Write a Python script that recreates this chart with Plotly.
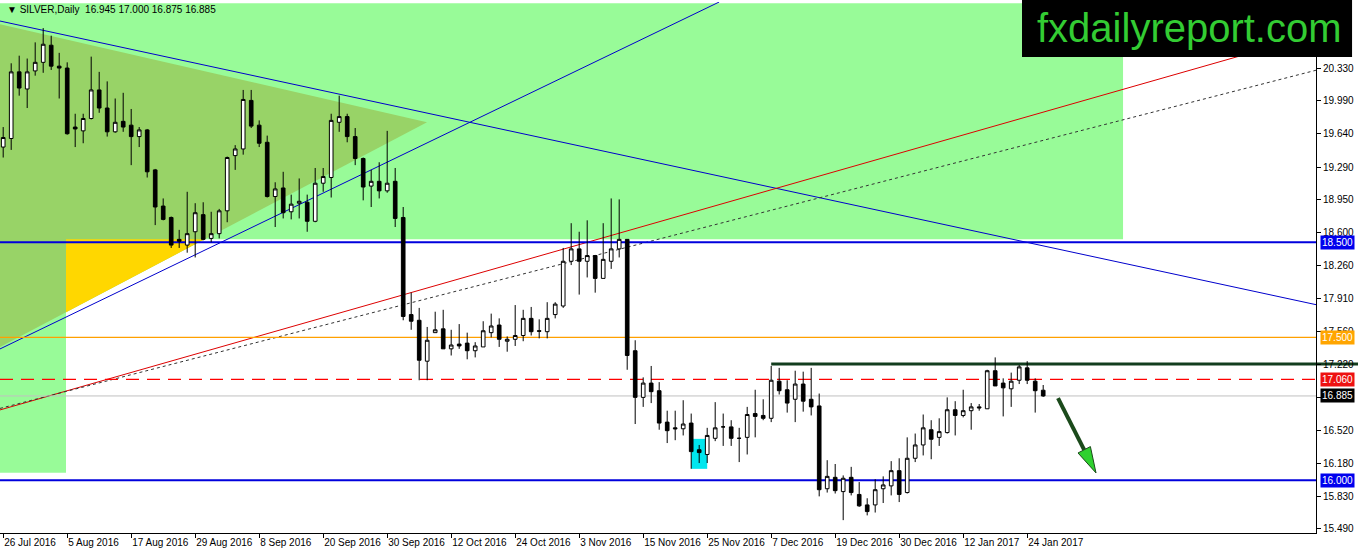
"""
SILVER daily chart with drawn trend lines and levels (MT4 style).
Writes out.html.
"""

import pandas as pd
import plotly.graph_objects as go

# ------------------------------------------------------------
# Data: SILVER, Daily
# ------------------------------------------------------------
HOLIDAYS = ["2016-12-26", "2017-01-02"]
DATES = [
    d.strftime("%Y-%m-%d")
    for d in pd.bdate_range("2016-07-26", "2017-01-26")
    if d.strftime("%Y-%m-%d") not in HOLIDAYS
]

OPEN = [
    19.50, 19.59, 20.29, 20.11, 20.30, 20.39, 20.57, 20.35, 20.33, 19.71,
    19.67, 19.80, 20.10, 19.91, 19.66, 19.77, 19.73, 19.61, 19.68, 19.26,
    18.88, 18.76, 18.53, 18.47, 18.61, 18.79, 18.54, 18.59, 18.83, 19.41,
    19.48, 19.99, 19.73, 19.55, 18.98, 19.07, 18.82, 18.91, 18.92, 18.72,
    19.12, 19.18, 19.76, 19.82, 19.61, 19.38, 19.09, 19.14, 19.04, 19.14,
    18.76, 17.74, 17.68, 17.25, 17.55, 17.59, 17.38, 17.43, 17.44, 17.36,
    17.40, 17.55, 17.63, 17.46, 17.48, 17.52, 17.70, 17.57, 17.56, 17.74,
    17.83, 18.30, 18.43, 18.30, 18.36, 18.12, 18.30, 18.43, 18.53, 17.36,
    16.87, 17.02, 16.94, 16.61, 16.55, 16.54, 16.60, 16.32, 16.27, 16.44,
    16.56, 16.56, 16.44, 16.45, 16.70, 16.68, 16.65, 17.04, 16.95, 16.85,
    17.01, 16.85, 16.78, 15.91, 16.03, 15.88, 16.03, 15.85, 15.74, 15.74,
    15.91, 15.94, 16.10, 15.87, 16.23, 16.37, 16.53, 16.45, 16.50, 16.74,
    16.68, 16.73, 16.77, 16.75, 17.15, 17.02, 16.96, 17.05, 17.18, 17.04,
    16.945,
]
HIGH = [
    19.71, 20.38, 20.46, 20.43, 20.60, 20.75, 20.67, 20.49, 20.39, 19.85,
    19.85, 20.45, 20.29, 20.19, 20.01, 20.07, 19.90, 19.71, 19.69, 19.27,
    18.96, 18.77, 18.63, 19.03, 18.91, 18.92, 18.82, 18.85, 19.40, 19.52,
    20.10, 20.10, 19.78, 19.62, 19.13, 19.24, 19.00, 19.17, 19.00, 19.28,
    19.28, 19.85, 20.04, 19.85, 19.70, 19.39, 19.26, 19.34, 19.67, 19.28,
    18.87, 17.97, 17.81, 17.61, 17.77, 17.79, 17.58, 17.64, 17.55, 17.45,
    17.67, 17.75, 17.70, 17.51, 17.84, 17.79, 17.82, 17.69, 17.87, 17.87,
    18.44, 18.70, 18.61, 18.73, 18.36, 18.70, 18.96, 18.95, 18.53, 17.47,
    17.08, 17.20, 17.03, 16.73, 16.73, 16.84, 16.70, 16.37, 16.55, 16.82,
    16.70, 16.63, 16.55, 16.77, 16.95, 16.85, 17.20, 17.18, 17.05, 17.15,
    17.14, 17.18, 16.91, 16.21, 16.17, 16.05, 16.14, 15.98, 15.81, 16.01,
    16.04, 16.20, 16.23, 16.45, 16.49, 16.69, 16.63, 16.65, 16.87, 16.83,
    16.95, 16.81, 16.80, 17.16, 17.29, 17.07, 17.13, 17.21, 17.25, 17.07,
    17.000,
]
LOW = [
    19.39, 19.47, 20.04, 19.91, 20.25, 20.28, 20.31, 20.01, 19.63, 19.50,
    19.54, 19.79, 19.86, 19.61, 19.65, 19.66, 19.31, 19.50, 19.18, 18.68,
    18.73, 18.44, 18.44, 18.39, 18.34, 18.52, 18.50, 18.54, 18.71, 19.26,
    19.42, 19.70, 19.50, 18.97, 18.66, 18.75, 18.74, 18.75, 18.61, 18.71,
    19.03, 18.97, 19.66, 19.55, 19.31, 18.94, 18.87, 18.96, 19.02, 18.66,
    17.68, 17.58, 17.05, 17.05, 17.55, 17.38, 17.31, 17.38, 17.27, 17.29,
    17.40, 17.50, 17.40, 17.35, 17.41, 17.46, 17.52, 17.49, 17.49, 17.70,
    17.81, 18.26, 17.95, 18.13, 17.97, 18.12, 18.22, 18.34, 17.16, 16.59,
    16.77, 16.81, 16.53, 16.39, 16.42, 16.47, 16.12, 16.18, 16.18, 16.41,
    16.36, 16.36, 16.19, 16.27, 16.45, 16.63, 16.61, 16.90, 16.71, 16.61,
    16.72, 16.68, 15.83, 15.87, 15.86, 15.58, 15.84, 15.72, 15.63, 15.66,
    15.76, 15.84, 15.77, 15.86, 16.19, 16.26, 16.22, 16.36, 16.49, 16.47,
    16.66, 16.53, 16.73, 16.75, 16.99, 16.67, 16.77, 17.01, 17.01, 16.71,
    16.875,
]
CLOSE = [
    19.60, 20.29, 20.12, 20.29, 20.39, 20.58, 20.35, 20.33, 19.64, 19.69,
    19.80, 20.10, 19.91, 19.66, 19.76, 19.71, 19.61, 19.68, 19.24, 18.87,
    18.74, 18.47, 18.51, 18.59, 18.81, 18.53, 18.59, 18.83, 19.39, 19.48,
    20.00, 19.72, 19.54, 18.98, 19.06, 18.81, 18.90, 18.93, 18.72, 19.12,
    19.19, 19.78, 19.82, 19.61, 19.38, 19.08, 19.14, 19.04, 19.12, 18.75,
    17.72, 17.67, 17.26, 17.47, 17.58, 17.38, 17.42, 17.41, 17.36, 17.41,
    17.57, 17.62, 17.48, 17.48, 17.52, 17.70, 17.56, 17.565, 17.70, 17.85,
    18.30, 18.43, 18.30, 18.36, 18.12, 18.32, 18.43, 18.53, 17.31, 16.87,
    17.02, 16.93, 16.60, 16.52, 16.54, 16.59, 16.30, 16.29, 16.47, 16.55,
    16.56, 16.44, 16.44, 16.69, 16.67, 16.65, 17.05, 16.94, 16.81, 17.01,
    16.83, 16.77, 15.90, 16.04, 15.89, 16.02, 15.87, 15.73, 15.67, 15.90,
    15.95, 16.10, 15.85, 16.23, 16.37, 16.55, 16.43, 16.51, 16.74, 16.68,
    16.73, 16.77, 16.76, 17.15, 16.99, 16.97, 17.04, 17.19, 17.05, 16.94,
    16.885,
]

TICK_DATES = [
    "2016-07-26", "2016-08-05", "2016-08-17", "2016-08-29", "2016-09-08",
    "2016-09-20", "2016-09-30", "2016-10-12", "2016-10-24", "2016-11-03",
    "2016-11-15", "2016-11-25", "2016-12-07", "2016-12-19", "2016-12-30",
    "2017-01-12", "2017-01-24",
]
TICK_LABELS = [
    "26 Jul 2016", "5 Aug 2016", "17 Aug 2016", "29 Aug 2016", "8 Sep 2016",
    "20 Sep 2016", "30 Sep 2016", "12 Oct 2016", "24 Oct 2016", "3 Nov 2016",
    "15 Nov 2016", "25 Nov 2016", "7 Dec 2016", "19 Dec 2016", "30 Dec 2016",
    "12 Jan 2017", "24 Jan 2017",
]
PRICE_TICKS = [20.33, 19.99, 19.64, 19.29, 18.95, 18.60, 18.26, 17.91,
               17.56, 17.22, 16.87, 16.52, 16.18, 15.83, 15.49]

# drawn levels
SUPPORT_HI = 18.500
SUPPORT_LO = 16.000
LEVEL_ORANGE = 17.500
LEVEL_RED = 17.060
LAST_PRICE = 16.885
RESIST_GREEN = 17.22

# drawn objects, anchors as (bar index, price)
DOWN_LINE = [(-0.4, 20.824), (164.1, 17.844)]
UP_LINE = [(-0.4, 17.379), (89.5, 21.024)]
RED_LINE = [(-0.4, 16.738), (164.1, 20.685)]
DOT_LINE = [(-0.4, 16.754), (164.1, 20.307)]
TRIANGLE = [(-0.4, 20.79), (52.975, 19.76), (-0.4, 17.40)]
ZONE_TOP = [(-0.4, 18.53), (139.98, 21.01)]
ZONE_LEFT = [(-0.4, 16.077), (7.85, 18.53)]
CYAN_BOX = [(86, 16.119), (88, 16.434)]
ARROW = [(131.85, 16.863), (136.6, 16.076)]

X_RANGE = [-0.4, 164.1]
Y_RANGE = [15.445, 21.024]

FONT = "Liberation Sans, Arial"

fig = go.Figure()

fig.add_trace(
    go.Candlestick(
        x=DATES,
        open=OPEN,
        high=HIGH,
        low=LOW,
        close=CLOSE,
        increasing=dict(line=dict(color="black", width=1), fillcolor="white"),
        decreasing=dict(line=dict(color="black", width=1), fillcolor="black"),
        whiskerwidth=0,
        hoverinfo="skip",
    )
)


# ------------------------------------------------------------
# Background objects (behind candles)
# ------------------------------------------------------------
def line(p0, p1, color, width=1, dash="solid"):
    fig.add_shape(
        type="line", layer="below",
        x0=p0[0], y0=p0[1], x1=p1[0], y1=p1[1],
        line=dict(color=color, width=width, dash=dash),
    )


def hline(price, color, width=1, dash="solid"):
    line((X_RANGE[0], price), (X_RANGE[1], price), color, width, dash)


PALE = "rgb(152,251,152)"
for a, b in (ZONE_TOP, ZONE_LEFT):
    fig.add_shape(type="rect", layer="below", x0=a[0], y0=a[1], x1=b[0], y1=b[1],
                  fillcolor=PALE, line=dict(width=0))

tri = "M {} {} L {} {} L {} {} Z".format(*[v for p in TRIANGLE for v in p])
fig.add_shape(type="path", layer="below", path=tri,
              fillcolor="rgb(152,211,103)", line=dict(width=0))

# yellow part: triangle below the zone, right of the left strip
(cx, cy), (bx, by) = TRIANGLE[2], TRIANGLE[1]
zb, xl = ZONE_TOP[0][1], ZONE_LEFT[1][0]
y_at_xl = cy + (xl - cx) / (bx - cx) * (by - cy)
x_at_zb = cx + (zb - cy) / (by - cy) * (bx - cx)
fig.add_shape(type="path", layer="below",
              path=f"M {xl} {zb} L {x_at_zb} {zb} L {xl} {y_at_xl} Z",
              fillcolor="rgb(255,215,0)", line=dict(width=0))

fig.add_shape(type="rect", layer="below",
              x0=CYAN_BOX[0][0], y0=CYAN_BOX[0][1], x1=CYAN_BOX[1][0], y1=CYAN_BOX[1][1],
              fillcolor="rgb(0,230,238)", line=dict(width=0))

line(*DOWN_LINE, color="#0000CC")
line(*UP_LINE, color="#0000CC")
line(*RED_LINE, color="#DD0000")
line(*DOT_LINE, color="#333333", dash="dot")

hline(SUPPORT_HI, "#0000DD", 2)
hline(SUPPORT_LO, "#0000DD", 2)
hline(LEVEL_ORANGE, "#FFA000", 1.2)
hline(LEVEL_RED, "#FF0000", 1.2, dash="13px,8px")
hline(LAST_PRICE, "#C0C0C0", 1)

# resistance segment runs across the price scale
green_x0 = (96 - X_RANGE[0]) / (X_RANGE[1] - X_RANGE[0])
fig.add_shape(type="line", layer="below", xref="paper", yref="y",
              x0=green_x0, x1=1.04, y0=RESIST_GREEN, y1=RESIST_GREEN,
              line=dict(color="#123D1E", width=3))

# arrow: dark shaft + bright green head
(ax, ay), (tx, ty) = ARROW
head_base = (135.125, 16.319)
line((ax, ay), head_base, "#1B4A1B", 4)
fig.add_shape(type="path", layer="above",
              path=f"M {tx} {ty} L 134.35 16.286 L 135.9 16.353 Z",
              fillcolor="#2FD12F", line=dict(color="#1B4A1B", width=1))

# ------------------------------------------------------------
# Logo and texts
# ------------------------------------------------------------
fig.add_shape(type="rect", xref="paper", yref="paper", layer="above",
              x0=0.7766, x1=1.0274, y0=0.8964, y1=1.004,
              fillcolor="black", line=dict(width=0))
fig.add_annotation(xref="paper", yref="paper", x=0.9035, y=0.951,
                   xanchor="center", yanchor="middle",
                   text="fxdailyreport.com", showarrow=False,
                   font=dict(family=FONT, size=40, color="#33CC33"))

fig.add_annotation(xref="paper", yref="paper", x=0.004, y=0.985,
                   xanchor="left", yanchor="middle", showarrow=False,
                   text="▼ SILVER,Daily  16.945 17.000 16.875 16.885",
                   font=dict(family=FONT, size=10, color="black"))

for price, bg in ((SUPPORT_HI, "#0000EE"), (LEVEL_ORANGE, "#FFA500"),
                  (LEVEL_RED, "#EE1111"), (LAST_PRICE, "black"), (SUPPORT_LO, "#0000EE")):
    fig.add_annotation(xref="paper", yref="y", x=1.003, y=price,
                       xanchor="left", yanchor="middle", showarrow=False,
                       text=f"{price:.3f}", bgcolor=bg, borderpad=1,
                       font=dict(family=FONT, size=10, color="white"))

# ------------------------------------------------------------
# Layout
# ------------------------------------------------------------
fig.update_layout(
    width=1358,
    height=554,
    margin=dict(l=0, r=42, t=2, b=21),
    paper_bgcolor="white",
    plot_bgcolor="white",
    showlegend=False,
    boxgap=0.35,
    font=dict(family=FONT, size=10, color="black"),
    xaxis=dict(
        type="category",
        range=X_RANGE,
        rangeslider=dict(visible=False),
        tickmode="array",
        tickvals=TICK_DATES,
        ticktext=TICK_LABELS,
        tickangle=0,
        ticks="outside",
        ticklen=4,
        tickcolor="black",
        ticklabelposition="outside right",
        showgrid=False,
        showline=True,
        linecolor="black",
        linewidth=1,
        zeroline=False,
    ),
    yaxis=dict(
        side="right",
        range=Y_RANGE,
        tickmode="array",
        tickvals=PRICE_TICKS,
        ticktext=[f"{v:.3f}" for v in PRICE_TICKS],
        ticks="outside",
        ticklen=4,
        tickcolor="black",
        showgrid=False,
        showline=True,
        linecolor="black",
        linewidth=1,
        zeroline=False,
    ),
)

# page body margin would push the fixed-size figure off the window
fig.write_html(
    "out.html",
    config={"displayModeBar": False},
    post_script="document.body.style.margin='0px';",
)
